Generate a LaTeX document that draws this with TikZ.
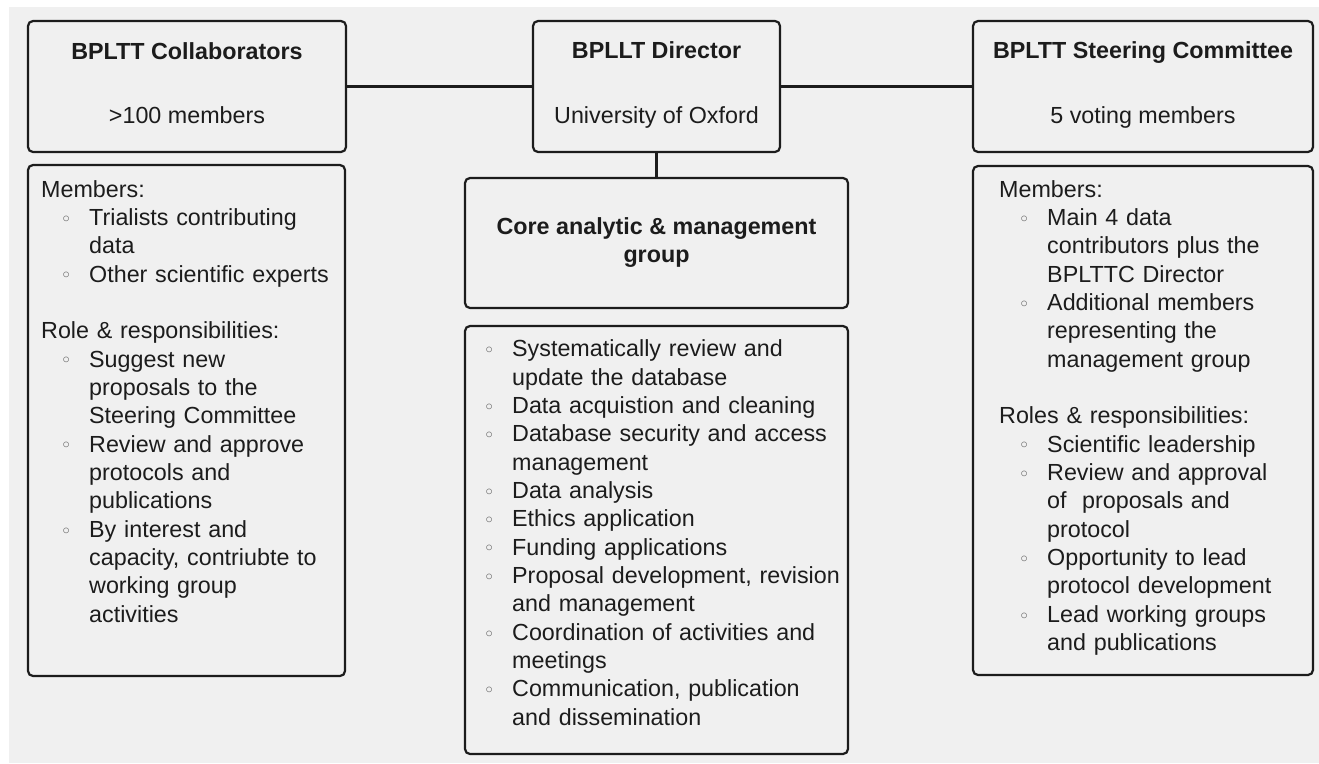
\documentclass[tikz,border=0pt]{standalone}
\usepackage{fontspec}
\setmainfont{Liberation Sans}
\definecolor{bg}{RGB}{240,240,240}
\definecolor{ink}{RGB}{28,28,28}
\definecolor{bulletgray}{RGB}{100,100,100}
\newcommand\blt{\hspace*{25pt}\makebox[0pt][c]{\raisebox{3.2pt}{\textcolor{bulletgray}{\fontsize{14}{14}\selectfont$\circ$}}}\hspace*{23pt}}
\newcommand\firstitm{\hangindent=48pt\hangafter=1\blt}
\newcommand\itm{\par\hangindent=48pt\hangafter=1\noindent\blt}
\newcommand\hd{\par\noindent}
\newcommand\gap{\par\mbox{}}
\newcommand\nl{\newline}
\begin{document}
\begin{tikzpicture}[x=1pt,y=-1pt,
  box/.style={draw=ink, line width=2.2pt, rounded corners=5pt, fill=bg, inner sep=0pt},
  conn/.style={draw=ink, line width=2.2pt},
  title/.style={font=\bfseries\fontsize{23.3}{28.35}\selectfont, text=ink, inner sep=0pt},
  sub/.style={font=\fontsize{23.3}{28.35}\selectfont, text=ink, inner sep=0pt},
  list/.style={font=\fontsize{23.3}{28.35}\selectfont, text=ink, inner sep=0pt, text width=400pt, anchor=base west}]
\useasboundingbox (0,0) rectangle (1319,763);
\fill[white] (0,0) rectangle (1319,763);
\fill[bg] (9,7) rectangle (1319,763);
% top row
\node[box, minimum width=318pt, minimum height=131pt] (collab) at (187,86.5) {};
\node[box, minimum width=247pt, minimum height=131pt] (director) at (656.5,86.5) {};
\node[box, minimum width=340pt, minimum height=131pt] (steer) at (1143,86.5) {};
% lower boxes
\node[box, minimum width=317pt, minimum height=511pt] (collablist) at (186.5,420.5) {};
\node[box, minimum width=383pt, minimum height=130pt] (core) at (656.5,243) {};
\node[box, minimum width=383pt, minimum height=428pt] (corelist) at (656.5,540) {};
\node[box, minimum width=340pt, minimum height=509pt] (steerlist) at (1143,420.5) {};
% connectors
\draw[conn] (collab) -- (director);
\draw[conn] (director) -- (steer);
\draw[conn] (director) -- (core);
% titles
\node[title, anchor=base] (collabT) at (187,59) {BPLTT Collaborators};
\node[sub, anchor=base] (collabS) at (187,123.3) {>100 members};
\node[title, anchor=base] (directorT) at (656.5,58.6) {BPLLT Director};
\node[sub, anchor=base] (directorS) at (656.5,123.3) {University of Oxford};
\node[title, anchor=base] (steerT) at (1143,58.6) {BPLTT Steering Committee};
\node[sub, anchor=base] (steerS) at (1143,123.3) {5 voting members};
\node[title, anchor=base] (coreT) at (656.5,234) {Core analytic \& management};
\node[title, anchor=base] (coreT2) at (656.5,262.3) {group};
% lists
\node[list] (collabL) at (41,197) {Members:%
\itm Trialists contributing\nl data%
\itm Other scientific experts%
\gap
\hd Role \& responsibilities:%
\itm Suggest new\nl proposals to the\nl Steering Committee%
\itm Review and approve\nl protocols and\nl publications%
\itm By interest and\nl capacity, contriubte to\nl working group\nl activities\par};
\node[list] (coreL) at (464,356.7) {\firstitm Systematically review and\nl update the database%
\itm Data acquistion and cleaning%
\itm Database security and access\nl management%
\itm Data analysis%
\itm Ethics application%
\itm Funding applications%
\itm Proposal development, revision\nl and management%
\itm Coordination of activities and\nl meetings%
\itm Communication, publication\nl and dissemination\par};
\node[list] (steerL) at (999,197) {Members:%
\itm Main 4 data\nl contributors plus the\nl BPLTTC Director%
\itm Additional members\nl representing the\nl management group%
\gap
\hd Roles \& responsibilities:%
\itm Scientific leadership%
\itm Review and approval\nl of~ proposals and\nl protocol%
\itm Opportunity to lead\nl protocol development%
\itm Lead working groups\nl and publications\par};
\end{tikzpicture}
\end{document}
